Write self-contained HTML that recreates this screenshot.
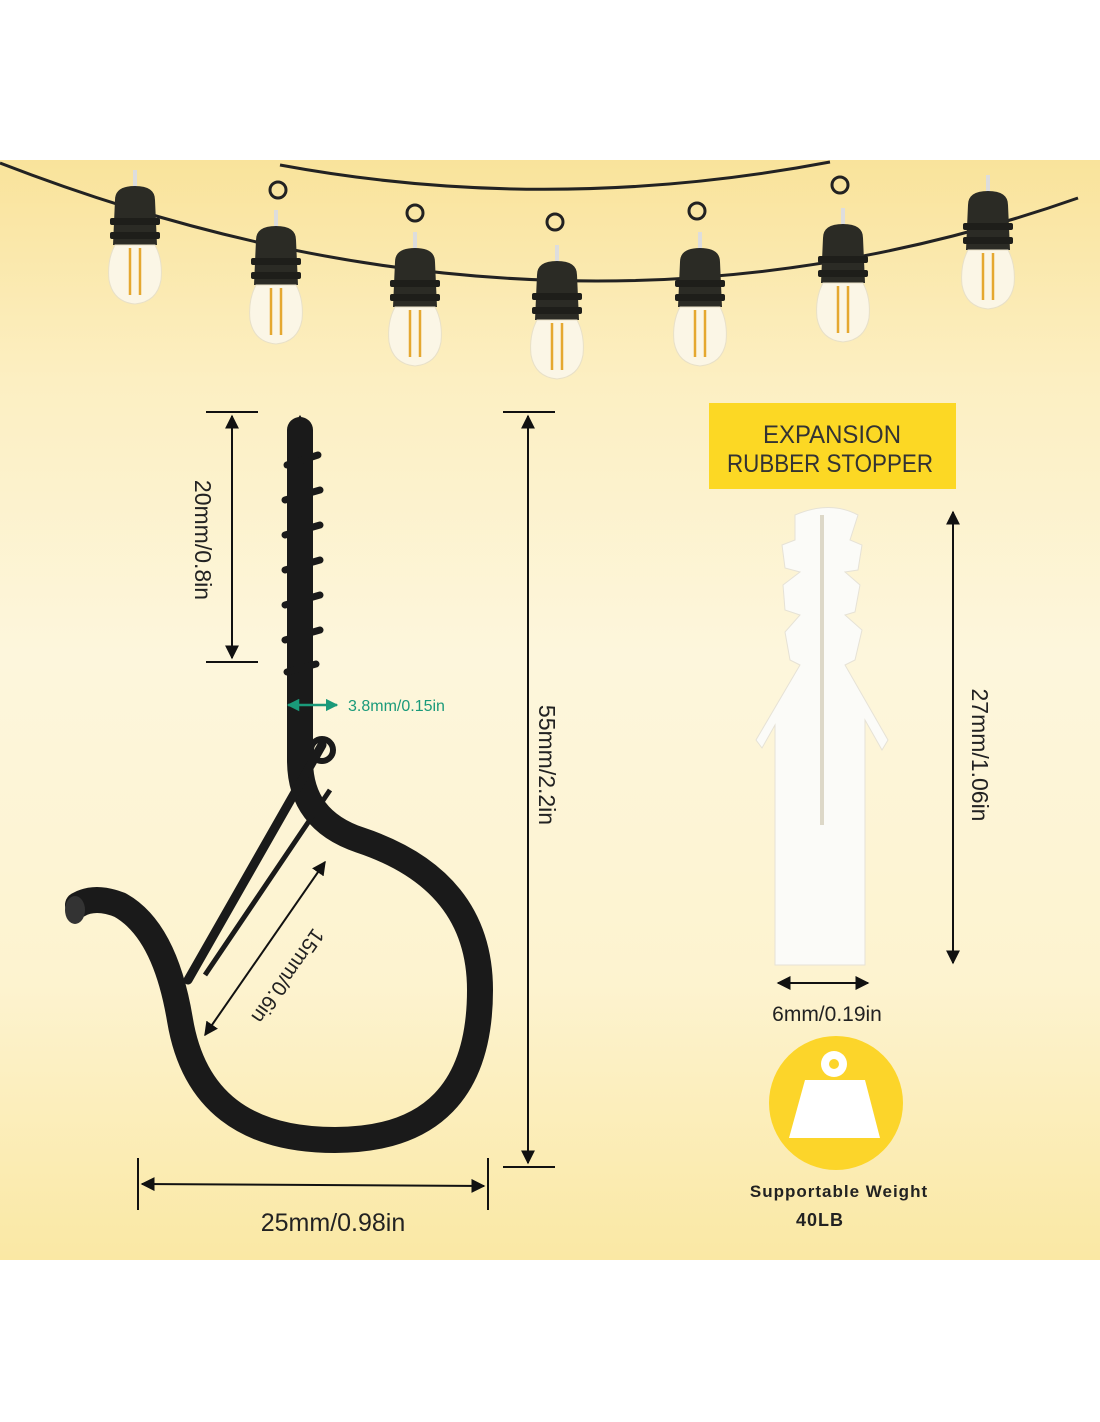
<!DOCTYPE html>
<html><head><meta charset="utf-8"><style>
html,body{margin:0;padding:0;background:#fff;}
body{width:1100px;height:1422px;position:relative;overflow:hidden;font-family:"Liberation Sans",sans-serif;}
#bg{position:absolute;left:0;top:160px;width:1100px;height:1100px;background:linear-gradient(#f9e39b 0%,#fcefc2 20%,#fdf6dc 45%,#fdf3cf 75%,#fae8a4 100%);}
svg{position:absolute;left:0;top:0;}
</style></head><body>
<div id="bg"></div>
<svg width="1100" height="1422" viewBox="0 0 1100 1422">
<defs>
<marker id="ah" viewBox="0 0 10 10" refX="9" refY="5" markerWidth="7" markerHeight="7" orient="auto-start-reverse"><path d="M0,0 L10,5 L0,10 z" fill="#111"/></marker>
<marker id="ag" viewBox="0 0 10 10" refX="9" refY="5" markerWidth="5" markerHeight="5" orient="auto-start-reverse"><path d="M0,0 L10,5 L0,10 z" fill="#1a9a7a"/></marker>
<g id="bulb">
<rect x="-2" y="-30" width="4" height="30" fill="#ddd"/>
<path d="M-20,0 Q-20,-14 0,-14 Q20,-14 20,0 L22,45 L-22,45 Z" fill="#2b2b25"/>
<rect x="-25" y="18" width="50" height="7" rx="2" fill="#1e1e1a"/>
<rect x="-25" y="32" width="50" height="7" rx="2" fill="#1e1e1a"/>
<path d="M-20,45 Q-28,60 -26,80 Q-22,102 0,104 Q22,102 26,80 Q28,60 20,45 Z" fill="#fbf6e6" stroke="#e8e0c8"/>
<line x1="-5" y1="48" x2="-5" y2="95" stroke="#e5a830" stroke-width="2.5"/>
<line x1="5" y1="48" x2="5" y2="95" stroke="#e5a830" stroke-width="2.5"/>
</g>
</defs>
<path d="M280,165 Q550,215 830,162" fill="none" stroke="#222" stroke-width="3"/>
<path d="M0,163 Q560,380 1078,198" fill="none" stroke="#222" stroke-width="3"/>
<g fill="none" stroke="#222" stroke-width="3">
<circle cx="278" cy="190" r="8"/><circle cx="415" cy="213" r="8"/><circle cx="555" cy="222" r="8"/><circle cx="697" cy="211" r="8"/><circle cx="840" cy="185" r="8"/>
</g>
<use href="#bulb" x="135" y="200"/>
<use href="#bulb" x="276" y="240"/>
<use href="#bulb" x="415" y="262"/>
<use href="#bulb" x="557" y="275"/>
<use href="#bulb" x="700" y="262"/>
<use href="#bulb" x="843" y="238"/>
<use href="#bulb" x="988" y="205"/>

<g fill="none" stroke="#1a1a1a" stroke-linecap="round">
<path d="M300,430 L300,760 Q300,820 360,840 Q480,880 480,990 Q480,1140 335,1140 Q200,1140 180,1020 Q165,930 120,905 Q95,895 78,905" stroke-width="26"/>
</g>
<path d="M300,415 L290,430 L290,700 L310,700 L310,430 Z" fill="#1a1a1a"/>
<g stroke="#1a1a1a" stroke-width="7" stroke-linecap="round">
<line x1="287" y1="465" x2="318" y2="455"/><line x1="285" y1="500" x2="320" y2="490"/><line x1="285" y1="535" x2="320" y2="525"/><line x1="285" y1="570" x2="320" y2="560"/><line x1="285" y1="605" x2="320" y2="595"/><line x1="285" y1="640" x2="320" y2="630"/><line x1="287" y1="672" x2="316" y2="664"/>
</g>
<ellipse cx="75" cy="910" rx="10" ry="14" fill="#333"/>
<path d="M322,745 L188,980" stroke="#1a1a1a" stroke-width="9" stroke-linecap="round"/>
<path d="M330,790 L205,975" stroke="#1a1a1a" stroke-width="5"/>
<circle cx="322" cy="750" r="11" fill="none" stroke="#1a1a1a" stroke-width="6"/>

<g stroke="#111" stroke-width="2" fill="none">
<line x1="206" y1="412" x2="258" y2="412"/><line x1="206" y1="662" x2="258" y2="662"/>
<line x1="232" y1="416" x2="232" y2="658" marker-start="url(#ah)" marker-end="url(#ah)"/>
<line x1="503" y1="412" x2="555" y2="412"/><line x1="503" y1="1167" x2="555" y2="1167"/>
<line x1="528" y1="416" x2="528" y2="1163" marker-start="url(#ah)" marker-end="url(#ah)"/>
<line x1="138" y1="1158" x2="138" y2="1210"/><line x1="488" y1="1158" x2="488" y2="1210"/>
<line x1="142" y1="1184" x2="484" y2="1186" marker-start="url(#ah)" marker-end="url(#ah)"/>
<line x1="325" y1="862" x2="205" y2="1035" marker-start="url(#ah)" marker-end="url(#ah)"/>
<line x1="953" y1="512" x2="953" y2="963" marker-start="url(#ah)" marker-end="url(#ah)"/>
<line x1="778" y1="983" x2="868" y2="983" marker-start="url(#ah)" marker-end="url(#ah)"/>
</g>
<line x1="288" y1="705" x2="337" y2="705" stroke="#1a9a7a" stroke-width="2.5" marker-start="url(#ag)" marker-end="url(#ag)"/>
<g font-size="23" fill="#222">
<text transform="translate(195,540) rotate(90)" text-anchor="middle">20mm/0.8in</text>
<text transform="translate(539,765) rotate(90)" text-anchor="middle">55mm/2.2in</text>
<text transform="translate(972,755) rotate(90)" text-anchor="middle">27mm/1.06in</text>
<text transform="translate(282,972) rotate(125)" text-anchor="middle" font-size="21">15mm/0.6in</text>
<text x="333" y="1231" text-anchor="middle" font-size="25">25mm/0.98in</text>
<text x="827" y="1021" text-anchor="middle" font-size="21">6mm/0.19in</text>
</g>
<text x="348" y="711" font-size="16" fill="#1a9a7a">3.8mm/0.15in</text>

<rect x="709" y="403" width="247" height="86" fill="#fcd824"/>
<text x="832" y="443" text-anchor="middle" font-size="25" fill="#333" textLength="138" lengthAdjust="spacingAndGlyphs">EXPANSION</text>
<text x="830" y="472" text-anchor="middle" font-size="25" fill="#333" textLength="206" lengthAdjust="spacingAndGlyphs">RUBBER STOPPER</text>

<path d="M795,515 Q830,500 858,515 L850,540 L862,545 L858,570 L845,572 L860,585 L855,612 L845,615 L862,630 L855,660 L845,665 L888,740 L882,750 L865,720 L865,965 L775,965 L775,725 L762,748 L756,740 L800,665 L790,660 L785,632 L800,615 L785,610 L783,585 L800,572 L785,568 L782,545 L795,540 Z" fill="#fbfbf8" stroke="#e6e2d6"/>
<line x1="822" y1="515" x2="822" y2="825" stroke="#ddd8c8" stroke-width="4"/>

<circle cx="836" cy="1103" r="67" fill="#fcd52a"/>
<circle cx="834" cy="1064" r="13" fill="#fff"/><circle cx="834" cy="1064" r="5" fill="#fcd52a"/>
<path d="M805,1080 L865,1080 L880,1138 L789,1138 Z" fill="#fff"/>
<text x="839" y="1197" text-anchor="middle" font-size="17" font-weight="bold" fill="#222" letter-spacing="1">Supportable Weight</text>
<text x="820" y="1226" text-anchor="middle" font-size="18" font-weight="bold" fill="#222" letter-spacing="1">40LB</text>
</svg>
</body></html>
